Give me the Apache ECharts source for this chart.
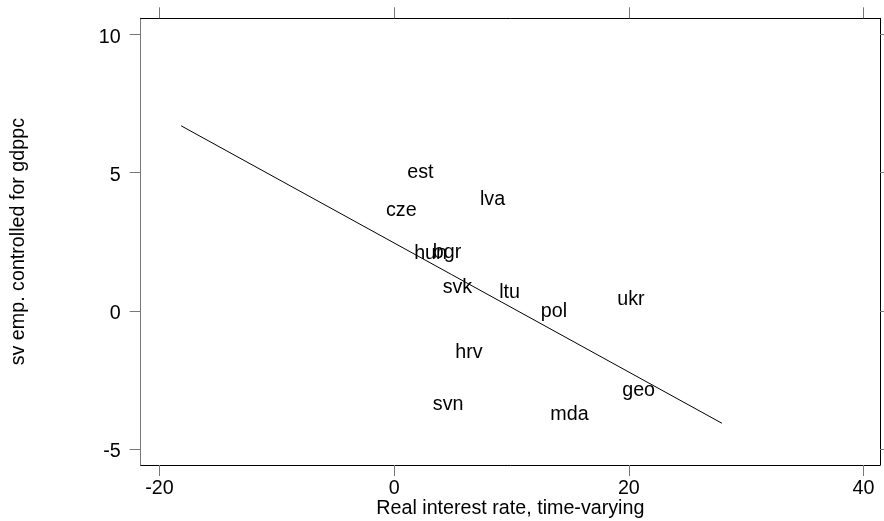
<!DOCTYPE html>
<html>
<head>
<meta charset="utf-8">
<script src="https://cdn.jsdelivr.net/npm/echarts@6/dist/echarts.min.js"></script>
<style>
	html, body { margin: 0; padding: 0; background: #fff; }
	#container { width: 884px; height: 521px; }
</style>
</head>
<body>
<div id="container"></div>
<script>
// country labels (no markers, just the text)
var countries = ['est', 'lva', 'cze', 'hun', 'bgr', 'svk', 'ltu', 'pol', 'ukr', 'hrv', 'svn', 'mda', 'geo'];
var rateX = [2.24, 8.38, 0.61, 3.1, 4.5, 5.39, 9.84, 13.61, 20.18, 6.37, 4.6, 14.94, 20.83];
var empY = [5.05, 4.05, 3.65, 2.12, 2.14, 0.86, 0.68, 0.01, 0.43, -1.46, -3.36, -3.72, -2.86];

// fitted line end points
var fitX = [-18.15, 27.93];
var fitY = [6.69, -4.07];

var xTicks = [-20, 0, 20, 40];
var yTicks = [-5, 0, 5, 10];

var dom = document.getElementById("container");
var myChart = echarts.init(dom, null, {renderer: 'canvas'});
var option = null;

var font = 'Liberation Sans, Arial, sans-serif';
var fs = 19.7;
var tickGray = '#777';

var labelData = countries.map(function (c, i) {
	return [rateX[i], empY[i], c];
});
var fitData = fitX.map(function (x, i) {
	return [x, fitY[i]];
});

option = {
	animation: false,
	backgroundColor: '#fff',
	textStyle: { fontFamily: font },
	grid: {
		left: 140.7,
		right: 4,
		top: 18.3,
		bottom: 56,
		containLabel: false,
		outerBoundsMode: 'none'
	},
	xAxis: [
		{
			type: 'value',
			position: 'bottom',
			min: -21.6,
			max: 41.4,
			name: 'Real interest rate, time-varying',
			nameLocation: 'middle',
			nameGap: 33.5,
			nameMoveOverlap: false,
			nameTextStyle: { fontSize: fs, color: '#000', fontFamily: font },
			axisLine: { show: true, onZero: false, lineStyle: { color: '#000', width: 1 } },
			axisTick: { show: true, length: 11, customValues: xTicks, lineStyle: { color: tickGray } },
			axisLabel: { customValues: xTicks, margin: 13.5, fontSize: fs, color: '#000', fontFamily: font },
			splitLine: { show: false }
		},
		{
			type: 'value',
			position: 'top',
			min: -21.6,
			max: 41.4,
			axisLine: { show: true, onZero: false, lineStyle: { color: '#000', width: 1 } },
			axisTick: { show: true, length: 11, customValues: xTicks, lineStyle: { color: tickGray } },
			axisLabel: { show: false },
			splitLine: { show: false }
		}
	],
	yAxis: [
		{
			type: 'value',
			position: 'left',
			min: -5.58,
			max: 10.58,
			name: 'sv emp. controlled for gdppc',
			nameLocation: 'middle',
			nameGap: 112,
			nameMoveOverlap: false,
			nameTextStyle: { fontSize: fs, color: '#000', fontFamily: font },
			axisLine: { show: true, onZero: false, lineStyle: { color: tickGray, width: 1 } },
			axisTick: { show: true, length: 11, customValues: yTicks, lineStyle: { color: tickGray } },
			axisLabel: {
				customValues: yTicks,
				margin: 20,
				formatter: function (v) { return '{t|' + v + '}'; },
				rich: { t: { fontSize: fs, color: '#000', fontFamily: font, padding: [6, 0, 0, 0] } }
			},
			splitLine: { show: false }
		},
		{
			type: 'value',
			position: 'right',
			min: -5.58,
			max: 10.58,
			axisLine: { show: true, onZero: false, lineStyle: { color: '#000', width: 1 } },
			axisTick: { show: true, length: 11, customValues: yTicks, lineStyle: { color: tickGray } },
			axisLabel: { show: false },
			splitLine: { show: false }
		}
	],
	series: [
		{
			name: 'fit',
			type: 'line',
			data: fitData,
			symbol: 'none',
			lineStyle: { color: '#000', width: 1 },
			silent: true
		},
		{
			name: 'country',
			type: 'scatter',
			data: labelData,
			symbolSize: 1,
			itemStyle: { color: 'transparent', opacity: 1 },
			label: {
				show: true,
				position: 'inside',
				offset: [0, 1],
				formatter: function (p) { return p.data[2]; },
				fontSize: fs,
				color: '#000',
				opacity: 1,
				textBorderWidth: 0,
				fontFamily: font
			}
		}
	]
};

if (option && typeof option === "object") {
	myChart.setOption(option, true);
}
</script>
</body>
</html>
